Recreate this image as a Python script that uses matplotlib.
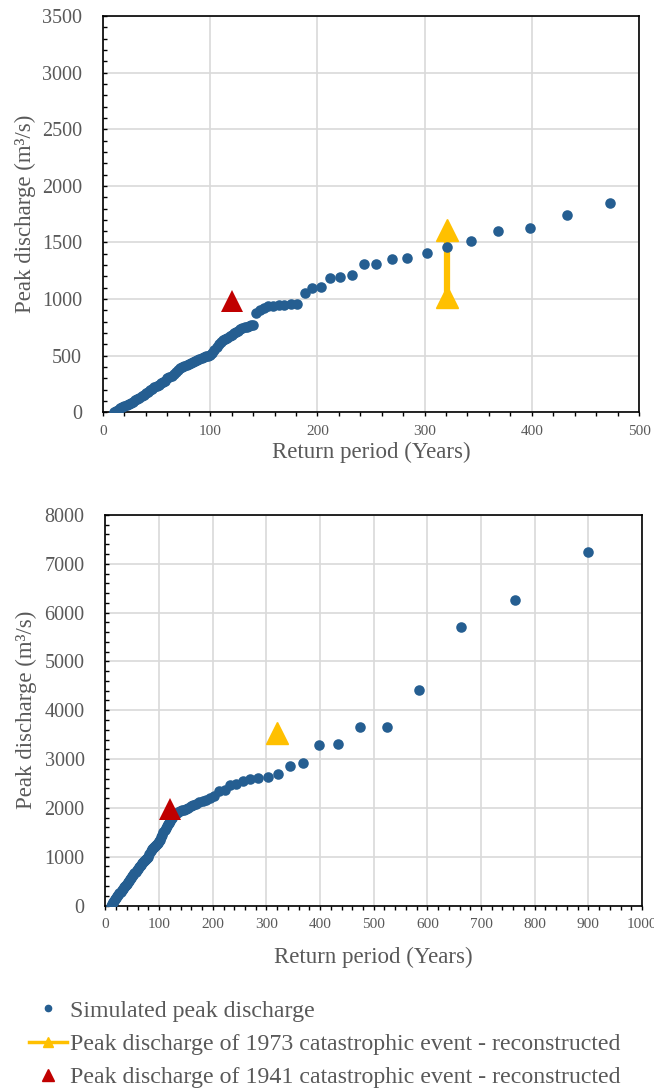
import matplotlib
matplotlib.use("Agg")
import matplotlib.pyplot as plt
from matplotlib.lines import Line2D
from matplotlib.ticker import MultipleLocator

plt.rcParams["font.family"] = ["Liberation Serif", "DejaVu Serif"]

BLUE = "#255E91"
YELLOW = "#FFC000"
RED = "#C00000"
GREY = "#595959"
GRID = "#D9D9D9"

# ---- top panel: simulated peak discharge vs return period ----
top_T = [10, 12, 14, 16, 18, 20, 22, 24, 26, 28, 30, 32, 34, 36, 38, 40, 42, 44, 46, 48,
         50, 52, 54, 56, 58, 60, 62, 64, 66, 68, 70, 72, 74, 76, 78, 80, 82, 84, 86, 88,
         90, 92, 94, 96, 98, 100, 102, 104, 106, 108, 110, 112, 114, 116, 118, 120, 122,
         124, 126, 128, 130, 132, 134, 136, 138, 140, 143, 146, 150, 154, 159, 164, 169,
         175, 181, 188, 195, 203, 212, 221, 232, 243, 255, 270, 284, 302, 321, 343, 368,
         398, 433, 473]
top_Q = [0, 12, 25, 38, 50, 60, 68, 76, 85, 95, 105, 117, 130, 142, 155, 167, 180, 195, 208, 220,
         232, 244, 255, 266, 280, 300, 312, 324, 338, 355, 372, 388, 400, 410, 420, 428, 437, 446, 455, 465,
         475, 483, 490, 496, 500, 505, 525, 550, 580, 605, 620, 635, 648, 660, 672, 685, 697,
         710, 722, 735, 745, 752, 758, 764, 768, 772, 880, 900, 925, 935, 940, 945, 950,
         955, 960, 1058, 1100, 1110, 1188, 1196, 1210, 1310, 1312, 1355, 1360, 1403, 1462, 1510, 1605,
         1625, 1745, 1845]

top_1973_T = [321, 321]
top_1973_Q = [1020, 1613]
top_1941_T = [120]
top_1941_Q = [980]

# ---- bottom panel ----
bot_T = [10, 12, 14, 16, 18, 20, 22, 24, 26, 28, 30, 32, 34, 36, 38, 40, 42, 44, 46, 48,
         50, 52, 54, 56, 58, 60, 62, 64, 66, 68, 70, 72, 74, 76, 78, 80, 82, 84, 86, 88,
         90, 92, 94, 96, 98, 100, 102, 104, 106, 108, 110, 112, 114, 116, 118, 120, 122,
         124, 126, 128, 130, 133, 136, 139, 142, 146, 150, 154, 159, 164, 169, 175, 181,
         188, 195, 203, 212, 222, 232, 244, 256, 270, 285, 302, 322, 344, 369, 398, 433,
         474, 524, 585, 662, 763, 900]
bot_Q = [0, 40, 70, 100, 130, 160, 190, 220, 255, 285, 315, 345, 375, 400, 425, 450, 480, 510, 540, 570,
         600, 630, 660, 690, 720, 750, 780, 810, 840, 865, 890, 915, 940, 960, 980, 1000, 1060, 1120, 1150, 1180,
         1200, 1220, 1240, 1260, 1290, 1320, 1350, 1400, 1450, 1510, 1550, 1590, 1620, 1660, 1700, 1740, 1770,
         1800, 1830, 1850, 1870, 1890, 1910, 1930, 1950, 1965, 1980, 2000, 2030, 2060, 2090, 2120, 2140,
         2160, 2200, 2245, 2350, 2365, 2470, 2485, 2555, 2585, 2620, 2640, 2700, 2860, 2915, 3290, 3310,
         3650, 3650, 4420, 5700, 6250, 7240]

bot_1973_T = [320]
bot_1973_Q = [3530]
bot_1941_T = [120]
bot_1941_Q = [1975]

fig = plt.figure(figsize=(6.54, 10.88), dpi=100)
ax1 = fig.add_axes([0.1575, 0.6210, 0.8196, 0.3643])
ax2 = fig.add_axes([0.1613, 0.1677, 0.8203, 0.3590])


def style_axis(ax, xmax, ymax, ymaj, ymin):
    ax.set_xlim(0, xmax)
    ax.set_ylim(0, ymax)
    ax.xaxis.set_major_locator(MultipleLocator(100))
    ax.xaxis.set_minor_locator(MultipleLocator(20))
    ax.yaxis.set_major_locator(MultipleLocator(ymaj))
    ax.yaxis.set_minor_locator(MultipleLocator(ymin))
    ax.grid(True, which="major", color=GRID, linewidth=1.2, zorder=0)
    ax.set_axisbelow(True)
    for s in ax.spines.values():
        s.set_color("black")
        s.set_linewidth(1.2)
    ax.tick_params(axis="x", which="both", direction="out", length=3, width=1,
                   labelsize=11, labelcolor=GREY, pad=6)
    ax.tick_params(axis="y", which="both", direction="in", length=3, width=1,
                   labelsize=14.5, labelcolor=GREY, pad=15)
    ax.set_xlabel("Return period (Years)", fontsize=16.5, color=GREY)
    ax.set_ylabel("Peak discharge (m³/s)", fontsize=16.5, color=GREY)


# Top
ax1.plot(top_1973_T, top_1973_Q, color=YELLOW, lw=4.5, marker="^", ms=16, zorder=2)
ax1.plot(top_T, top_Q, "o", color=BLUE, ms=7.6, mew=0, zorder=3)
ax1.plot(top_1941_T, top_1941_Q, "^", color=RED, ms=16.5, mew=0, zorder=4)
style_axis(ax1, 500, 3500, 500, 100)
ax1.xaxis.set_label_coords(0.5, -0.075)
ax1.yaxis.set_label_coords(-0.125, 0.5)

# Bottom
ax2.plot(bot_1973_T, bot_1973_Q, color=YELLOW, lw=4.5, marker="^", ms=16, zorder=2)
ax2.plot(bot_T, bot_Q, "o", color=BLUE, ms=7.6, mew=0, zorder=3)
ax2.plot(bot_1941_T, bot_1941_Q, "^", color=RED, ms=16, mew=0, zorder=4)
style_axis(ax2, 1000, 8000, 1000, 200)
ax2.xaxis.set_label_coords(0.5, -0.105)
ax2.yaxis.set_label_coords(-0.128, 0.5)

handles = [
    Line2D([], [], color=BLUE, marker="o", ls="none", ms=4.5),
    Line2D([], [], color=YELLOW, marker="^", lw=2.5, ms=7),
    Line2D([], [], color=RED, marker="^", ls="none", ms=8),
]
labels = [
    "Simulated peak discharge",
    "Peak discharge of 1973 catastrophic event - reconstructed",
    "Peak discharge of 1941 catastrophic event - reconstructed",
]
leg = fig.legend(handles, labels, loc="upper left", bbox_to_anchor=(29 / 654, 1 - 1000 / 1088),
                 frameon=False, fontsize=17.2, handlelength=1.6, handletextpad=0.1,
                 labelspacing=0.48, borderpad=0, borderaxespad=0)
for t in leg.get_texts():
    t.set_color(GREY)

fig.savefig("out.png", dpi=100)
